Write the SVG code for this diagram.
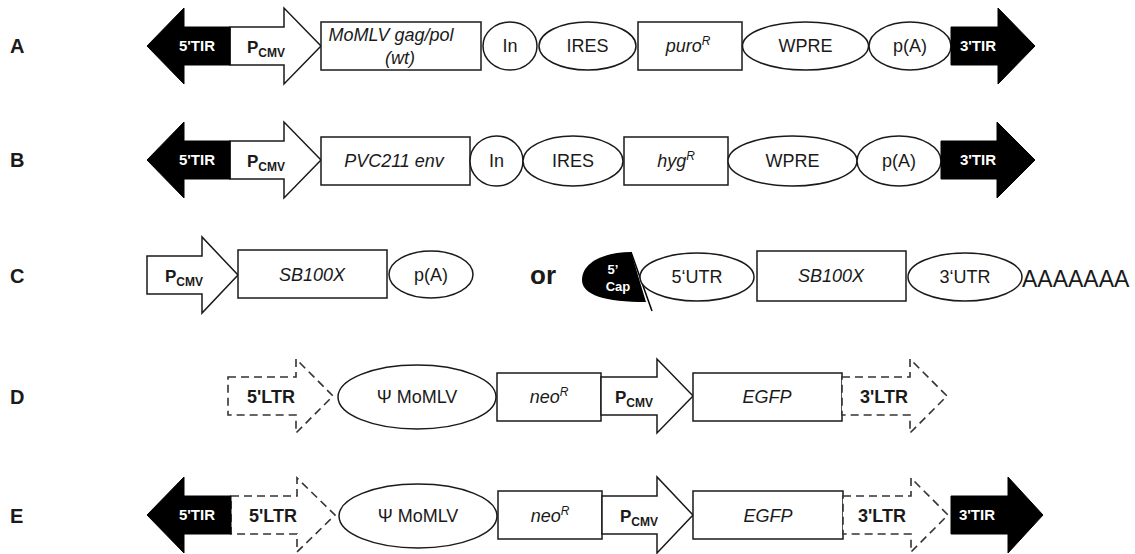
<svg xmlns="http://www.w3.org/2000/svg" width="1135" height="554" viewBox="0 0 1135 554">
<style>
.sh{fill:#fff;stroke:#1a1a1a;stroke-width:1.5}
.blk{fill:#000;stroke:#000;stroke-width:1}
.da{fill:#fff;stroke:#333;stroke-width:1.6;stroke-dasharray:8 5}
text{font-family:"Liberation Sans",Arial,sans-serif;fill:#1a1a1a}
.t{font-size:18px;text-anchor:middle}
.i{font-style:italic}
.w{font-size:15px;font-weight:bold;fill:#fff;text-anchor:middle}
.p{font-size:17px;font-weight:bold}
.s{font-size:12px}
.l{font-size:18px;font-weight:bold;text-anchor:middle}
.lbl{font-size:20px;font-weight:bold}
</style>

<g id="labels">
<text class="lbl" x="10" y="53">A</text>
<text class="lbl" x="10" y="167">B</text>
<text class="lbl" x="10" y="283">C</text>
<text class="lbl" x="10" y="404">D</text>
<text class="lbl" x="10" y="523">E</text>
</g>

<!-- Row A -->
<g id="A-pcmv"><polygon class="sh" points="230,27 284,27 284,8 321,46 284,84 284,65 230,65"/>
<text class="p" x="247" y="53">P<tspan class="s" dy="4">CMV</tspan></text></g>
<g id="A-5tir"><polygon class="blk" points="147,46 184,8 184,27 230,27 230,65 184,65 184,84"/>
<text class="w" x="197" y="51">5'TIR</text></g>
<g id="A-gagpol"><rect class="sh" x="321" y="22" width="160" height="48"/>
<text class="t i" x="391" y="41">MoMLV gag/pol</text><text class="t i" x="400" y="64">(wt)</text></g>
<g id="A-in"><ellipse class="sh" cx="510" cy="46" rx="27" ry="24"/><text class="t" x="510" y="52">In</text></g>
<g id="A-ires"><ellipse class="sh" cx="587.5" cy="46" rx="48.5" ry="24"/><text class="t" x="587.5" y="52">IRES</text></g>
<g id="A-puro"><rect class="sh" x="638" y="22" width="104" height="48"/><text class="t i" x="688" y="52">puro<tspan class="s" dy="-7">R</tspan></text></g>
<g id="A-wpre"><ellipse class="sh" cx="805.5" cy="46" rx="63" ry="24"/><text class="t" x="805.5" y="52">WPRE</text></g>
<g id="A-pa"><ellipse class="sh" cx="910" cy="46" rx="41" ry="24"/><text class="t" x="910" y="52">p(A)</text></g>
<g id="A-3tir"><polygon class="blk" points="951,27 998,27 998,8 1035,46 998,84 998,65 951,65"/>
<text class="w" x="978" y="51">3'TIR</text></g>

<!-- Row B -->
<g id="B-pcmv"><polygon class="sh" points="230,141 284,141 284,122 321,160 284,198 284,179 230,179"/>
<text class="p" x="247" y="167">P<tspan class="s" dy="4">CMV</tspan></text></g>
<g id="B-5tir"><polygon class="blk" points="147,160 184,122 184,141 230,141 230,179 184,179 184,198"/>
<text class="w" x="197" y="165">5'TIR</text></g>
<g id="B-env"><rect class="sh" x="321" y="137" width="149" height="48"/><text class="t i" x="394" y="167">PVC211 env</text></g>
<g id="B-in"><ellipse class="sh" cx="496.5" cy="161" rx="26.5" ry="25"/><text class="t" x="496.5" y="167">In</text></g>
<g id="B-ires"><ellipse class="sh" cx="573" cy="161" rx="50" ry="25"/><text class="t" x="573" y="167">IRES</text></g>
<g id="B-hyg"><rect class="sh" x="624" y="137" width="104" height="48"/><text class="t i" x="676" y="167">hyg<tspan class="s" dy="-7">R</tspan></text></g>
<g id="B-wpre"><ellipse class="sh" cx="792.5" cy="161" rx="64.5" ry="25"/><text class="t" x="792.5" y="167">WPRE</text></g>
<g id="B-pa"><ellipse class="sh" cx="899" cy="161" rx="42" ry="25"/><text class="t" x="899" y="167">p(A)</text></g>
<g id="B-3tir"><polygon class="blk" points="941,141 997,141 997,122 1035,160 997,198 997,179 941,179"/>
<text class="w" x="978" y="165">3'TIR</text></g>

<!-- Row C -->
<g id="C-pcmv"><polygon class="sh" points="147,256 202,256 202,237 238,275 202,313 202,294 147,294"/>
<text class="p" x="165" y="282">P<tspan class="s" dy="4">CMV</tspan></text></g>
<g id="C-sb"><rect class="sh" x="238" y="250" width="149" height="48"/><text class="t i" x="312" y="281">SB100X</text></g>
<g id="C-pa"><ellipse class="sh" cx="431" cy="274.5" rx="42" ry="23.5"/><text class="t" x="431" y="281">p(A)</text></g>
<g id="C-or"><text x="530" y="284" style="font-size:26px;font-weight:bold">or</text></g>
<g id="C-cap"><path d="M631,252 C605,252 582,262 582,280 C582,295 605,302 646,302 Z" fill="#000"/>
<line x1="631" y1="252" x2="652" y2="311" stroke="#000" stroke-width="1.5"/>
<text x="613" y="274" style="font-size:13px;font-weight:bold;fill:#fff;text-anchor:middle">5’</text>
<text x="618" y="291" style="font-size:13px;font-weight:bold;fill:#fff;text-anchor:middle">Cap</text></g>
<g id="C-5utr"><ellipse class="sh" cx="697" cy="277" rx="57" ry="24"/><text class="t" x="697" y="283">5‘UTR</text></g>
<g id="C-sb2"><rect class="sh" x="757" y="251" width="149" height="50"/><text class="t i" x="831" y="282">SB100X</text></g>
<g id="C-3utr"><ellipse class="sh" cx="965" cy="277" rx="57" ry="24"/><text class="t" x="965" y="283">3‘UTR</text></g>
<g id="C-polyA"><text x="1022" y="287" style="font-size:23px">AAAAAAA</text></g>

<!-- Row D -->
<g id="D-5ltr"><polygon class="da" points="228,377 296,377 296,359 333,396 296,433 296,415 228,415"/>
<text class="l" x="271" y="403">5'LTR</text></g>
<g id="D-psi"><ellipse class="sh" cx="417" cy="397" rx="79" ry="32"/><text class="t" x="417" y="403">Ψ MoMLV</text></g>
<g id="D-neo"><rect class="sh" x="497" y="373" width="104" height="48"/><text class="t i" x="549" y="403">neo<tspan class="s" dy="-7">R</tspan></text></g>
<g id="D-pcmv"><polygon class="sh" points="601,377 657,377 657,359 693,396 657,433 657,415 601,415"/>
<text class="p" x="615" y="403">P<tspan class="s" dy="4">CMV</tspan></text></g>
<g id="D-egfp"><rect class="sh" x="693" y="373" width="149" height="48"/><text class="t i" x="767" y="403">EGFP</text></g>
<g id="D-3ltr"><polygon class="da" points="842,377 910,377 910,359 947,396 910,433 910,415 842,415"/>
<text class="l" x="884" y="403">3'LTR</text></g>

<!-- Row E -->
<g id="E-5ltr"><polygon class="da" points="231,496 297,496 297,478 335,515 297,552 297,534 231,534"/>
<text class="l" x="273" y="522">5'LTR</text></g>
<g id="E-5tir"><polygon class="blk" points="147,515 184,477 184,496 231,496 231,534 184,534 184,553"/>
<text class="w" x="197" y="520">5'TIR</text></g>
<g id="E-psi"><ellipse class="sh" cx="418" cy="516" rx="79" ry="32"/><text class="t" x="418" y="522">Ψ MoMLV</text></g>
<g id="E-neo"><rect class="sh" x="498" y="491" width="104" height="48"/><text class="t i" x="550" y="522">neo<tspan class="s" dy="-7">R</tspan></text></g>
<g id="E-pcmv"><polygon class="sh" points="602,496 657,496 657,477 693,515 657,553 657,534 602,534"/>
<text class="p" x="620" y="522">P<tspan class="s" dy="4">CMV</tspan></text></g>
<g id="E-egfp"><rect class="sh" x="693" y="491" width="150" height="48"/><text class="t i" x="768" y="522">EGFP</text></g>
<g id="E-3ltr"><polygon class="da" points="843,496 911,496 911,478 948,515 911,552 911,534 843,534"/>
<text class="l" x="882" y="522">3'LTR</text></g>
<g id="E-3tir"><polygon class="blk" points="951,496 1008,496 1008,477 1043,515 1008,553 1008,534 951,534"/>
<text class="w" x="977" y="520">3'TIR</text></g>

<g id="connectors"></g>
</svg>
